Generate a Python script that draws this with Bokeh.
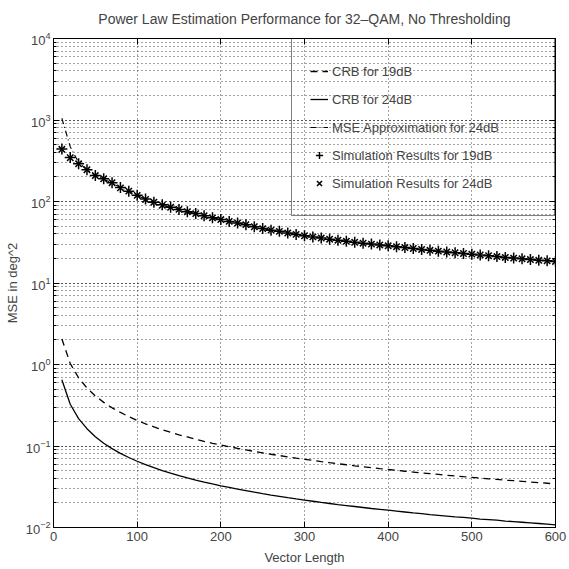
from bokeh.plotting import figure
from bokeh.models import Legend, LegendItem, LinearAxis, LogAxis, FixedTicker, CustomJSTickFormatter
from bokeh.embed import file_html
from bokeh.resources import INLINE

FONT = "Liberation Sans"

vector_length = [10, 20, 30, 40, 50, 60, 70, 80, 90, 100,
                 110, 120, 130, 140, 150, 160, 170, 180, 190, 200,
                 210, 220, 230, 240, 250, 260, 270, 280, 290, 300,
                 310, 320, 330, 340, 350, 360, 370, 380, 390, 400,
                 410, 420, 430, 440, 450, 460, 470, 480, 490, 500,
                 510, 520, 530, 540, 550, 560, 570, 580, 590, 600]

crb_19db = [2.06, 1.03, 0.687, 0.515, 0.412, 0.343, 0.294, 0.258, 0.229, 0.206,
            0.187, 0.172, 0.158, 0.147, 0.137, 0.129, 0.121, 0.114, 0.108, 0.103,
            0.0981, 0.0936, 0.0896, 0.0858, 0.0824, 0.0792, 0.0763, 0.0736, 0.0710, 0.0687,
            0.0665, 0.0644, 0.0624, 0.0606, 0.0589, 0.0572, 0.0557, 0.0542, 0.0528, 0.0515,
            0.0502, 0.0490, 0.0479, 0.0468, 0.0458, 0.0448, 0.0438, 0.0429, 0.0420, 0.0412,
            0.0404, 0.0396, 0.0389, 0.0381, 0.0375, 0.0368, 0.0361, 0.0355, 0.0349, 0.0343]

crb_24db = [0.650, 0.325, 0.217, 0.163, 0.130, 0.108, 0.0929, 0.0813, 0.0722, 0.0650,
            0.0591, 0.0542, 0.0500, 0.0464, 0.0433, 0.0406, 0.0382, 0.0361, 0.0342, 0.0325,
            0.0310, 0.0295, 0.0283, 0.0271, 0.0260, 0.0250, 0.0241, 0.0232, 0.0224, 0.0217,
            0.0210, 0.0203, 0.0197, 0.0191, 0.0186, 0.0181, 0.0176, 0.0171, 0.0167, 0.0163,
            0.0159, 0.0155, 0.0151, 0.0148, 0.0144, 0.0141, 0.0138, 0.0135, 0.0133, 0.0130,
            0.0127, 0.0125, 0.0123, 0.0120, 0.0118, 0.0116, 0.0114, 0.0112, 0.0110, 0.0108]

mse_approx_24db = [1050, 470, 300, 245, 208, 188, 168, 149, 133, 119,
                   107, 98, 90, 85, 80, 75, 71, 67, 63, 60,
                   57, 54.5, 52, 49, 46.5, 44.5, 43, 41, 39.5, 38,
                   36.8, 35.6, 34.5, 33.5, 32.5, 31.6, 30.8, 30, 29.3, 28.6,
                   27.9, 27.2, 26.5, 25.8, 25.2, 24.6, 24, 23.5, 23, 22.6,
                   22.1, 21.6, 21.1, 20.6, 20.2, 19.8, 19.4, 19, 18.7, 18.4]

sim_19db = [440, 346, 290, 246, 209, 190, 170, 149, 134, 119,
            107, 98, 91, 85, 80, 75, 71, 67, 63, 60,
            57, 54.5, 52, 49, 46.5, 44.5, 43, 41, 39.5, 38,
            36.8, 35.6, 34.5, 33.5, 32.5, 31.6, 30.8, 30, 29.3, 28.6,
            27.9, 27.2, 26.5, 25.8, 25.2, 24.6, 24, 23.5, 23, 22.6,
            22.1, 21.6, 21.1, 20.6, 20.2, 19.8, 19.4, 19, 18.7, 18.4]

sim_24db = [437, 344, 290, 245, 208, 190, 170, 147, 134, 119,
            106, 98, 90, 85, 80, 75, 71, 67, 63, 60,
            57, 54.5, 52, 49, 46.5, 44.5, 43, 41, 39.5, 38,
            36.8, 35.6, 34.5, 33.5, 32.5, 31.6, 30.8, 30, 29.3, 28.6,
            27.9, 27.2, 26.5, 25.8, 25.2, 24.6, 24, 23.5, 23, 22.6,
            22.1, 21.6, 21.1, 20.6, 20.2, 19.8, 19.4, 19, 18.7, 18.4]

x_ticks = [0, 100, 200, 300, 400, 500, 600]

p = figure(width=569, height=569, y_axis_type="log",
           x_range=(0, 600), y_range=(1e-2, 1e4),
           output_backend="svg", toolbar_location=None,
           min_border_left=53, min_border_right=14,
           min_border_top=38, min_border_bottom=42,
           title="Power Law Estimation Performance for 32–QAM, No Thresholding")

p.title.text_font = FONT
p.title.text_font_size = "14px"
p.title.text_font_style = "normal"
p.title.align = "center"
p.title.vertical_align = "top"
p.title.standoff = 20

p.outline_line_color = "black"
p.outline_line_alpha = 1
p.background_fill_color = "white"
p.border_fill_color = "white"

# axes
p.xaxis.ticker = FixedTicker(ticks=x_ticks)
p.yaxis.ticker.desired_num_ticks = 7
p.xaxis.axis_label = "Vector Length"
p.yaxis.axis_label = "MSE in deg^2"
for ax in (p.xaxis[0], p.yaxis[0]):
    ax.axis_label_text_font = FONT
    ax.axis_label_text_font_size = "13px"
    ax.axis_label_text_font_style = "normal"
    ax.major_label_text_font = FONT
    ax.major_label_text_font_size = "13px"
    ax.axis_line_color = "black"
    ax.major_tick_line_color = "black"
    ax.major_tick_in = 6
    ax.major_tick_out = 0
    ax.minor_tick_in = 3
    ax.minor_tick_out = 0
    ax.minor_tick_line_color = "black"
    ax.axis_label_standoff = 4
    ax.major_label_standoff = 4
p.xaxis.minor_tick_line_color = None
p.xaxis.axis_label_standoff = 6
p.yaxis.axis_label_standoff = 3
p.yaxis.major_label_standoff = 3

# mirrored ticks on top and right (no labels)
top = LinearAxis(ticker=FixedTicker(ticks=x_ticks),
                 formatter=CustomJSTickFormatter(code="return ''"),
                 major_tick_in=6, major_tick_out=0, minor_tick_line_color=None,
                 axis_line_color="black", major_label_standoff=0)
p.add_layout(top, "above")
right = LogAxis(formatter=CustomJSTickFormatter(code="return ''"),
                major_tick_in=6, major_tick_out=0, minor_tick_in=3, minor_tick_out=0,
                axis_line_color="black", major_label_standoff=0)
right.ticker.desired_num_ticks = 7
p.add_layout(right, "right")

# grid
for g in (p.xgrid[0], p.ygrid[0]):
    g.grid_line_color = "#333333"
    g.grid_line_dash = "1 3"
    g.grid_line_alpha = 0.9
p.ygrid.minor_grid_line_color = "#333333"
p.ygrid.minor_grid_line_dash = "1 3"
p.ygrid.minor_grid_line_alpha = 0.9

r1 = p.line(vector_length, crb_19db, line_color="black", line_width=1.3, line_dash="7 5")
r2 = p.line(vector_length, crb_24db, line_color="black", line_width=1.3)
r3 = p.line(vector_length, mse_approx_24db, line_color="black", line_width=1.1, line_dash="6 3 1 3")
r4 = p.scatter(vector_length, sim_19db, marker="cross", size=11, line_color="black", line_width=1.5)
r5 = p.scatter(vector_length, sim_24db, marker="x", size=9, line_color="black", line_width=1.5)

legend = Legend(items=[
    LegendItem(label="CRB for 19dB", renderers=[r1]),
    LegendItem(label="CRB for 24dB", renderers=[r2]),
    LegendItem(label="MSE Approximation for 24dB", renderers=[r3]),
    LegendItem(label="Simulation Results for 19dB", renderers=[r4]),
    LegendItem(label="Simulation Results for 24dB", renderers=[r5]),
], location="top_right")
legend.margin = 0
legend.padding = 18
legend.spacing = 0
legend.glyph_width = 18
legend.glyph_height = 28
legend.label_standoff = 4
legend.label_width = 204
legend.label_text_font = FONT
legend.label_text_font_size = "13px"
legend.border_line_color = "black"
legend.border_line_width = 1
legend.background_fill_alpha = 0
p.add_layout(legend, "center")

open("out.html", "w").write(file_html(p, INLINE))
